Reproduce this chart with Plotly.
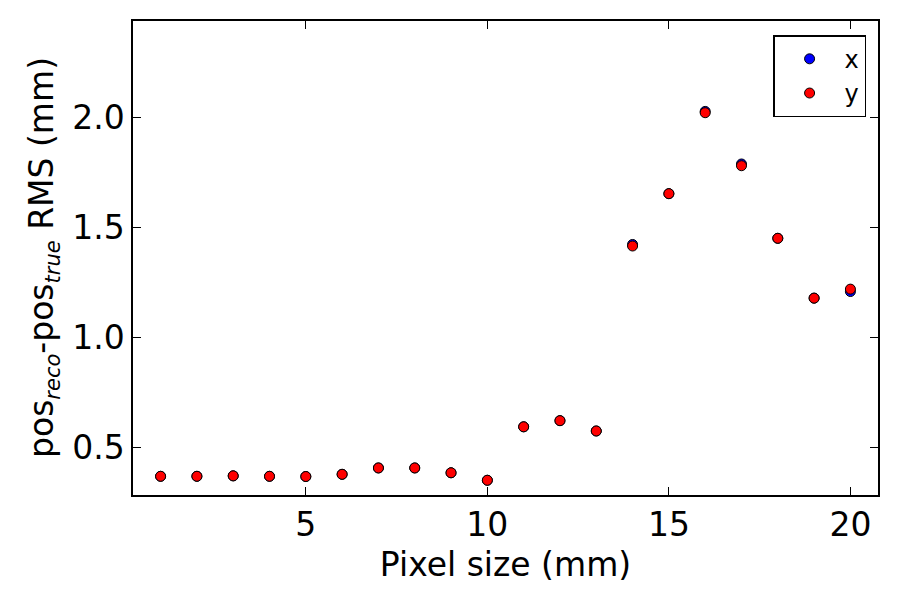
import plotly.graph_objects as go

pixel_size = [1, 2, 3, 4, 5, 6, 7, 8, 9, 10, 11, 12, 13, 14, 15, 16, 17, 18, 19, 20]
rms_x = [0.370, 0.370, 0.372, 0.370, 0.369, 0.379, 0.408, 0.408, 0.386, 0.352,
         0.595, 0.623, 0.576, 1.424, 1.655, 2.029, 1.790, 1.452, 1.180, 1.210]
rms_y = [0.370, 0.370, 0.372, 0.370, 0.369, 0.379, 0.408, 0.408, 0.386, 0.352,
         0.595, 0.623, 0.576, 1.417, 1.655, 2.023, 1.782, 1.452, 1.180, 1.221]
err_x = [0.004] * 20
err_y = [0.004] * 20

font = "DejaVu Sans, Liberation Sans, sans-serif"

fig = go.Figure()
fig.add_trace(go.Scatter(
    x=pixel_size, y=rms_x, mode="markers", name="x",
    marker=dict(color="#0000ff", size=10, line=dict(color="black", width=1)),
    error_y=dict(type="data", array=err_x, color="#0000ff", thickness=1, width=4),
))
fig.add_trace(go.Scatter(
    x=pixel_size, y=rms_y, mode="markers", name="y",
    marker=dict(color="#ff0000", size=10, line=dict(color="black", width=1)),
    error_y=dict(type="data", array=err_y, color="#ff0000", thickness=1, width=4),
))

axis_common = dict(
    showgrid=False, zeroline=False, showline=True, linecolor="black", linewidth=1.5,
    mirror="allticks", ticks="inside", ticklen=8, tickwidth=1, tickcolor="black",
    tickfont=dict(family=font, size=33, color="black"),
)

ytitle = ("pos<sub><span style='font-size:21px'><i>reco</i></span></sub>-"
          "pos<sub><span style='font-size:21px'><i>true</i></span></sub> RMS (mm)")

fig.update_layout(
    width=900, height=600,
    paper_bgcolor="white", plot_bgcolor="white",
    margin=dict(l=133, r=22, t=21, b=105),
    font=dict(family=font, color="black"),
    xaxis=dict(
        range=[0.24, 20.76], tickvals=[5, 10, 15, 20],
        title=dict(text="Pixel size (mm)", font=dict(family=font, size=33), standoff=10),
        **axis_common,
    ),
    yaxis=dict(
        range=[0.285, 2.44], tickvals=[0.5, 1.0, 1.5, 2.0], tickformat=".1f",
        **axis_common,
    ),
    legend=dict(
        x=0.984, y=0.970, xanchor="right", yanchor="top",
        bordercolor="black", borderwidth=1.5, bgcolor="white",
        font=dict(family=font, size=24, color="black"),
        itemwidth=60, tracegroupgap=4,
    ),
    showlegend=True,
    annotations=[dict(
        text=ytitle, textangle=-90, xref="paper", yref="paper",
        x=-0.1208, y=0.5, xanchor="center", yanchor="middle", showarrow=False,
        font=dict(family=font, size=33, color="black"),
    )],
)

fig.write_html("out.html")
